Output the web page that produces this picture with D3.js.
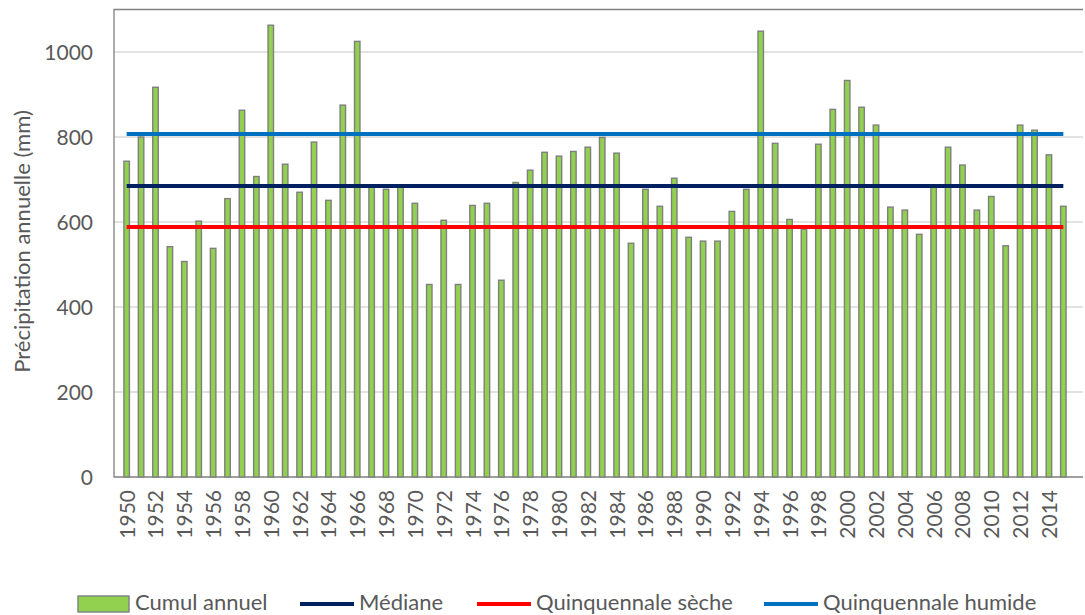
<!DOCTYPE html>
<html>
<head>
<meta charset="utf-8">
<script src="https://cdn.jsdelivr.net/npm/d3@7"></script>
<style>
  body { margin: 0; background: #fff; }
  svg { display: block; font-family: Lato, "Open Sans", sans-serif; }
</style>
</head>
<body>
<div id="chart"></div>
<script>
const years = d3.range(1950, 2016).map(String);

const cumulAnnuel = [
  743, 800, 917, 542, 507, 602, 538, 655, 863, 707,
  1063, 736, 670, 788, 651, 875, 1025, 683, 677, 686,
  644, 453, 604, 453, 639, 644, 463, 693, 722, 764,
  755, 766, 776, 799, 762, 550, 677, 637, 703, 564,
  555, 555, 625, 677, 1049, 785, 606, 583, 783, 865,
  933, 870, 828, 635, 628, 571, 683, 776, 734, 628,
  660, 544, 828, 816, 758, 637
];

const mediane = 685;
const quinquennaleSeche = 588;
const quinquennaleHumide = 807;

const yTicks = [0, 200, 400, 600, 800, 1000];

const refLines = [
  { name: 'Médiane', value: mediane, color: '#002060' },
  { name: 'Quinquennale sèche', value: quinquennaleSeche, color: '#ff0000' },
  { name: 'Quinquennale humide', value: quinquennaleHumide, color: '#0070c0' },
];

function drawChart(selector) {
  const width = 1085;
  const height = 615;
  const plotLeft = 114;
  const plotRight = 1083;
  const plotTop = 9.5;
  const plotBottom = 477;

  const svg = d3.select(selector).append('svg')
    .attr('width', width)
    .attr('height', height);

  const xScale = d3.scaleBand()
    .domain(years)
    .range([115, 1075])
    .padding(0.62);

  const yScale = d3.scaleLinear()
    .domain([0, 1100])
    .range([plotBottom, plotTop]);

  // gridlines
  svg.append('g')
    .selectAll('line')
    .data(yTicks.filter(d => d > 0))
    .join('line')
    .attr('x1', plotLeft)
    .attr('x2', plotRight)
    .attr('y1', d => yScale(d))
    .attr('y2', d => yScale(d))
    .attr('stroke', '#d9d9d9')
    .attr('stroke-width', 1.3);

  // plot border (top + left + bottom)
  svg.append('path')
    .attr('d', `M${plotRight},${plotTop}H${plotLeft}V${plotBottom}H${plotRight}`)
    .attr('fill', 'none')
    .attr('stroke', '#808080')
    .attr('stroke-width', 1.3);

  // y tick labels
  svg.append('g')
    .selectAll('text')
    .data(yTicks)
    .join('text')
    .attr('x', 93)
    .attr('y', d => yScale(d))
    .attr('dy', '0.36em')
    .attr('text-anchor', 'end')
    .attr('fill', '#595959')
    .attr('font-size', 21)
    .text(d => d);

  // y title
  svg.append('text')
    .attr('transform', `translate(30, ${(90 + 393) / 2}) rotate(-90)`)
    .attr('text-anchor', 'middle')
    .attr('fill', '#595959')
    .attr('font-size', 22)
    .text('Précipitation annuelle (mm)');

  // bars
  svg.append('g')
    .selectAll('rect')
    .data(cumulAnnuel)
    .join('rect')
    .attr('x', (d, i) => xScale(years[i]))
    .attr('y', d => yScale(d))
    .attr('width', xScale.bandwidth())
    .attr('height', d => plotBottom - yScale(d))
    .attr('fill', '#92d050')
    .attr('stroke', '#7f7f7f')
    .attr('stroke-width', 1.4);

  // reference lines
  const firstX = xScale(years[0]) + xScale.bandwidth() / 2;
  const lastX = xScale(years[years.length - 1]) + xScale.bandwidth() / 2;
  svg.append('g')
    .selectAll('line')
    .data(refLines)
    .join('line')
    .attr('x1', firstX)
    .attr('x2', lastX)
    .attr('y1', d => yScale(d.value))
    .attr('y2', d => yScale(d.value))
    .attr('stroke', d => d.color)
    .attr('stroke-width', 4);

  // x tick labels, every other year
  svg.append('g')
    .selectAll('text')
    .data(years.filter((d, i) => i % 2 === 0))
    .join('text')
    .attr('transform', d => `translate(${xScale(d) + xScale.bandwidth() / 2 + 8}, 490) rotate(-90)`)
    .attr('text-anchor', 'end')
    .attr('fill', '#595959')
    .attr('font-size', 21)
    .text(d => d);

  // legend
  const legend = svg.append('g').attr('font-size', 22).attr('fill', '#595959');
  legend.append('rect')
    .attr('x', 78).attr('y', 596)
    .attr('width', 51).attr('height', 16)
    .attr('fill', '#92d050')
    .attr('stroke', '#7f7f7f')
    .attr('stroke-width', 1.4);
  legend.append('text').attr('x', 135).attr('y', 610).text('Cumul annuel');

  const legendPos = [300, 477, 764];
  refLines.forEach((d, i) => {
    legend.append('line')
      .attr('x1', legendPos[i]).attr('x2', legendPos[i] + 54)
      .attr('y1', 604).attr('y2', 604)
      .attr('stroke', d.color)
      .attr('stroke-width', 4);
    legend.append('text')
      .attr('x', legendPos[i] + 59).attr('y', 610)
      .text(d.name);
  });
}

drawChart('#chart');
</script>
</body>
</html>
